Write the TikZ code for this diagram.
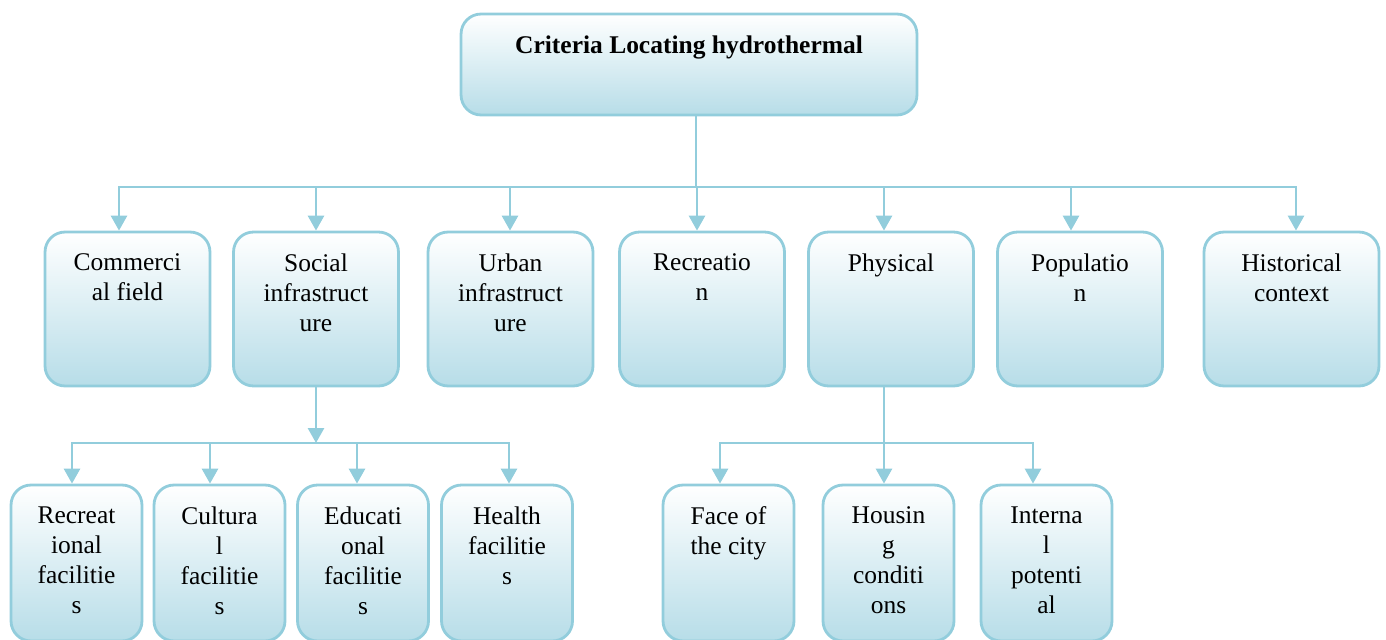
\documentclass[tikz,border=0pt]{standalone}
\usepackage{fontspec}
\setmainfont{Liberation Serif}
\usepackage{tikz}
\usetikzlibrary{arrows.meta,calc,positioning}
\definecolor{boxline}{RGB}{146,205,220}
\definecolor{boxfill}{RGB}{183,221,232}

\begin{document}
\begin{tikzpicture}[x=0.02cm,y=-0.02cm,
  crit/.style={draw=boxline,line width=1.6pt,rounded corners=0.4cm,top color=white,bottom color=boxfill,inner sep=0pt},
  lbl/.style={align=center,inner sep=0pt,font=\fontsize{14.5}{17.07}\selectfont},
  conn/.style={draw=boxline,line width=1.6pt},
  arr/.style={conn,-{Triangle[length=0.3cm,width=0.32cm]}}]
\useasboundingbox (0,0) rectangle (1386,639);
\clip (0,0) rectangle (1386,639);

% top box
\node[crit,minimum width=9.12cm,minimum height=2.02cm] (top) at (689,64.5) {};
\node[lbl,font=\fontsize{14.5}{17.07}\selectfont\bfseries,below=0.46cm of top.north] (top-t) {Criteria Locating hydrothermal};

% second row
\foreach \n/\x/\w/\t in {comm/127.5/3.3/{Commerci\\al field},
    soc/316/3.3/{Social\\infrastruct\\ure},
    urb/510.5/3.3/{Urban\\infrastruct\\ure},
    recr/702/3.3/{Recreatio\\n},
    phys/891/3.3/{Physical},
    pop/1080/3.3/{Populatio\\n},
    hist/1291.5/3.5/{Historical\\context}}{
  \node[crit,minimum width=\w cm,minimum height=3.08cm] (\n) at (\x,309) {};
  \node[lbl,below=0.46cm of \n.north] (\n-t) {\t};
}

% third row
\foreach \n/\x/\t in {rfac/76.5/{Recreat\\ional\\facilitie\\s},
    cfac/219.5/{Cultura\\l\\facilitie\\s},
    efac/363/{Educati\\onal\\facilitie\\s},
    hfac/507/{Health\\facilitie\\s},
    face/728.5/{Face of\\the city},
    hous/888.5/{Housin\\g\\conditi\\ons},
    intp/1046.5/{Interna\\l\\potenti\\al}}{
  \node[crit,minimum width=2.62cm,minimum height=3.12cm] (\n) at (\x,563) {};
  \node[lbl,below=0.46cm of \n.north] (\n-t) {\t};
}

% connectors
\coordinate (bus1) at (696,187);
\coordinate (bus2) at (316,443);
\coordinate (bus3) at (884,443);
\draw[conn] (top.south -| bus1) -- (bus1);
\foreach \n/\dx in {comm/-8.5,soc/0,urb/-0.5,recr/-5,phys/-7,pop/-9,hist/4.5}
  \draw[arr] (bus1) -| ($(\n.north)+(\dx,0)$);

\draw[arr] (soc.south) -- (bus2);
\foreach \n/\dx in {rfac/-4.5,cfac/-9.5,efac/-6,hfac/2}
  \draw[arr] (bus2) -| ($(\n.north)+(\dx,0)$);

\draw[conn] (phys.south -| bus3) -- (bus3);
\foreach \n/\dx in {face/-8.5,hous/-4.5,intp/-13.5}
  \draw[arr] (bus3) -| ($(\n.north)+(\dx,0)$);
\end{tikzpicture}
\end{document}
